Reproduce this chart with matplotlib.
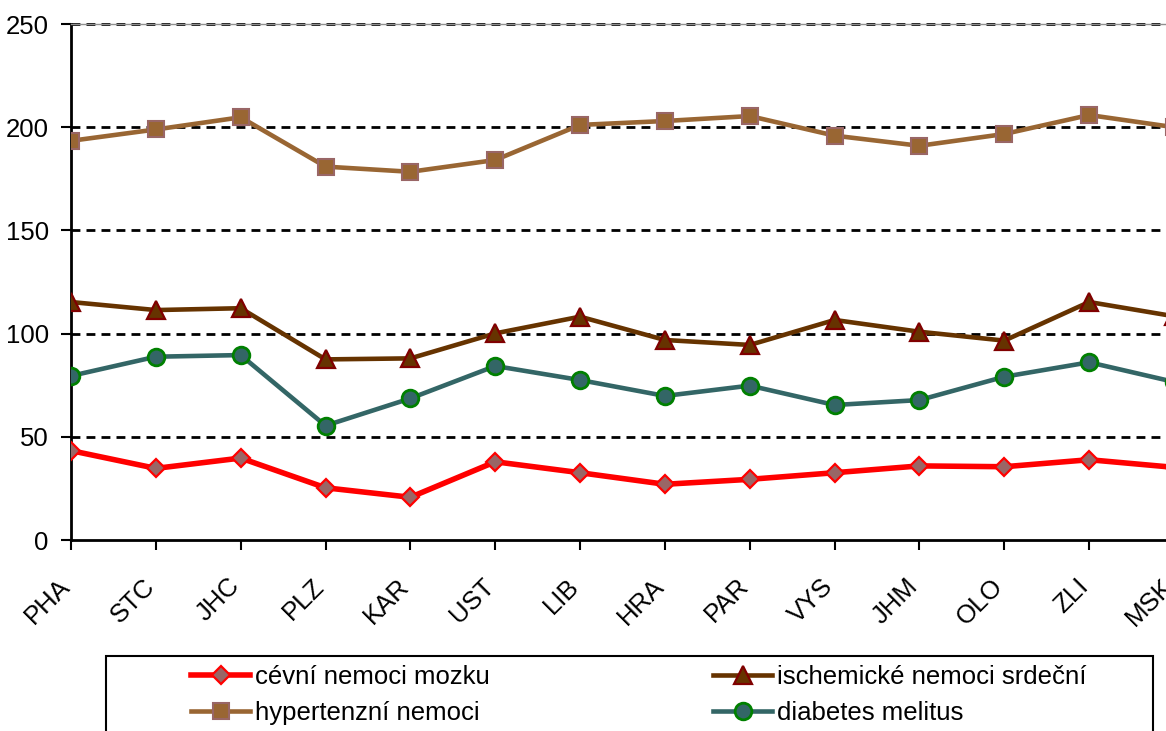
import matplotlib
matplotlib.use("Agg")
import matplotlib.pyplot as plt
import matplotlib.patches as patches
import matplotlib.transforms as mtransforms

regions = ["PHA", "STC", "JHC", "PLZ", "KAR", "UST", "LIB", "HRA", "PAR",
           "VYS", "JHM", "OLO", "ZLI", "MSK"]
cevni = [43.3, 34.7, 39.7, 25.3, 20.7, 37.9, 32.6, 27.0, 29.4, 32.6, 35.9, 35.5, 38.9, 35.2]
ischemicke = [115.3, 111.4, 112.3, 87.5, 88.0, 100.1, 108.2, 96.9, 94.5, 106.6, 100.9, 96.6, 115.3, 108.4]
hypertenzni = [193.4, 198.9, 204.8, 180.9, 178.4, 184.1, 201.1, 203.0, 205.4, 195.9, 191.0, 196.7, 205.9, 200.0]
diabetes = [79.5, 88.8, 89.6, 55.4, 68.6, 84.3, 77.5, 69.8, 74.8, 65.4, 67.8, 79.1, 86.1, 76.6]
yticks = [0, 50, 100, 150, 200, 250]

plt.rcParams['font.family'] = ['Liberation Sans', 'DejaVu Sans']
FS = 18.5

W, H = 1166, 731
fig = plt.figure(figsize=(W / 100, H / 100), dpi=100)
# axes run past the right edge, like the cropped original
ax = fig.add_axes([71 / W, 1 - 540 / H, (1174 - 71) / W, (540 - 24) / H])

x = list(range(len(regions)))
l1, = ax.plot(x, cevni, color='#FF0000', lw=4.0, marker='D', ms=9,
              mfc='#996666', mec='#FF0000', mew=1.6, zorder=5)
l2, = ax.plot(x, ischemicke, color='#663300', lw=3.3, marker='^', ms=13,
              mfc='#663300', mec='#800000', mew=1.6, zorder=5)
l3, = ax.plot(x, hypertenzni, color='#996633', lw=3.3, marker='s', ms=11,
              mfc='#996633', mec='#996666', mew=1.5, zorder=5)
l4, = ax.plot(x, diabetes, color='#336666', lw=3.3, marker='o', ms=12,
              mfc='#336666', mec='#008000', mew=2, zorder=5)

ax.set_xlim(0, len(regions) - 1)
ax.set_ylim(0, 250)
ax.set_yticks(yticks)
ax.set_yticklabels([str(v) for v in yticks], fontsize=FS)
for v in yticks[1:]:
    ax.axhline(v, color='black', lw=2.0, ls=(0, (3.2, 2.2)), zorder=2, clip_on=False)

ax.set_xticks(x)
ax.set_xticklabels(regions, fontsize=FS, rotation=45, ha='right',
                   va='baseline', rotation_mode='anchor')
shift = mtransforms.ScaledTranslation(-8 / 100, 0, fig.dpi_scale_trans)
for lab in ax.get_xticklabels():
    lab.set_transform(lab.get_transform() + shift)

ax.tick_params(axis='y', direction='out', length=7, width=1.5, pad=9)
ax.tick_params(axis='x', direction='out', length=7, width=1.5, pad=27)
for s in ['left', 'bottom']:
    ax.spines[s].set_linewidth(2)
ax.spines['right'].set_visible(False)
ax.spines['top'].set_color('#909090')
ax.spines['top'].set_linewidth(1)

# legend frame, cut off at the bottom
fig.patches.append(patches.Rectangle((106 / W, -0.1), (1153 - 106) / W, 0.1 + 1 - 656 / H,
                                     transform=fig.transFigure, fill=False,
                                     edgecolor='black', lw=1.5))
leg_opts = dict(loc='upper left', frameon=False, fontsize=FS, borderpad=0,
                borderaxespad=0, handlelength=2.3, handletextpad=0.2,
                labelspacing=0.45, numpoints=1)
fig.legend([l1, l3], ["cévní nemoci mozku", "hypertenzní nemoci"],
           bbox_to_anchor=(191 / W, 1 - 665 / H), **leg_opts)
fig.legend([l2, l4], ["ischemické nemoci srdeční", "diabetes melitus"],
           bbox_to_anchor=(713 / W, 1 - 665 / H), **leg_opts)

fig.savefig("out.png", dpi=100)
